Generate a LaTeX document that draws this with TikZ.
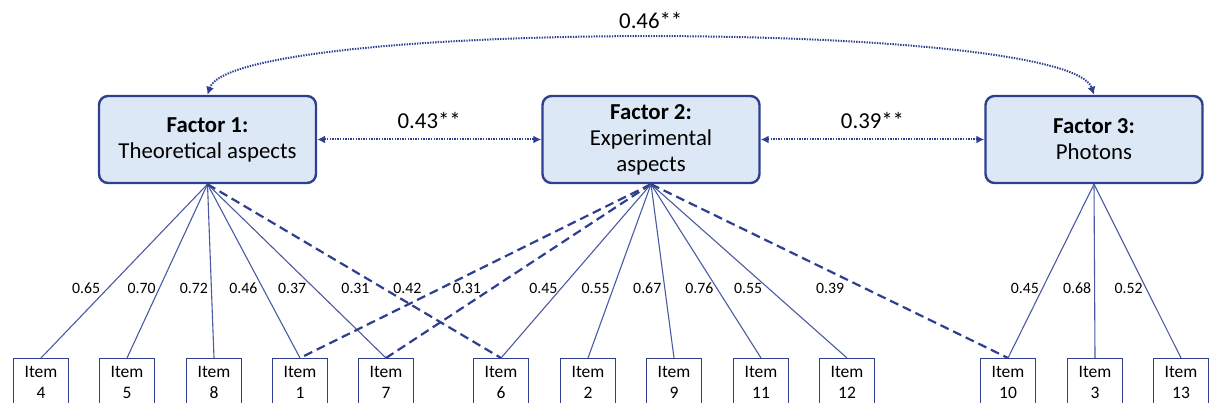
\documentclass[tikz,border=0pt]{standalone}
\usepackage{fontspec}
\setmainfont{Carlito}
\usetikzlibrary{arrows.meta}
\definecolor{navy}{HTML}{2E3F8F}
\definecolor{paleblue}{HTML}{DCE8F5}
\definecolor{linkblue}{HTML}{4B5BA3}

\begin{document}
\begin{tikzpicture}[x=1pt,y=-1pt,
   factor/.style={draw=navy,fill=paleblue,line width=2.4pt,rounded corners=9pt,
      minimum width=217pt,minimum height=87pt,align=center,
      font=\fontsize{22.8}{26}\selectfont},
   item/.style={draw=navy,line width=1.4pt,minimum width=55pt,anchor=north,
      align=center,inner ysep=8pt,font=\fontsize{17.5}{20.5}\selectfont},
   load/.style={draw=linkblue,line width=1.1pt},
   cross/.style={draw=navy,line width=2.2pt,dash pattern=on 9pt off 5pt},
   corr/.style={draw=navy,line width=2pt,dash pattern=on 1.4pt off 1.2pt,
      {Latex[length=8pt,width=8pt]}-{Latex[length=8pt,width=8pt]}},
   lbl/.style={pos=0.6,anchor=east,inner xsep=3pt,inner ysep=1pt,
      font=\fontsize{15.8}{18}\selectfont},
   coef/.style={font=\fontsize{22.8}{26}\selectfont}]
\useasboundingbox (0,0) rectangle (1209,403);

\node[factor] (f1) at (207.5,139.5) {\textbf{Factor 1:}\\Theoretical aspects};
\node[factor] (f2) at (651,139.5) {\textbf{Factor 2:}\\Experimental\\aspects};
\node[factor] (f3) at (1094,139.5) {\textbf{Factor 3:}\\Photons};

\node[item] (i4) at (41,358) {Item\\4};
\node[item] (i5) at (127,358) {Item\\5};
\node[item] (i8) at (214,358) {Item\\8};
\node[item] (i1) at (300,358) {Item\\1};
\node[item] (i7) at (386,358) {Item\\7};
\node[item] (i6) at (501,358) {Item\\6};
\node[item] (i2) at (588,358) {Item\\2};
\node[item] (i9) at (674,358) {Item\\9};
\node[item] (i11) at (761,358) {Item\\11};
\node[item] (i12) at (847,358) {Item\\12};
\node[item] (i10) at (1008,358) {Item\\10};
\node[item] (i3) at (1095,358) {Item\\3};
\node[item] (i13) at (1181,358) {Item\\13};

\draw[load] (f1.south) -- node[lbl,xshift=-4pt] {0.65} (i4.north);
\draw[load] (f1.south) -- node[lbl] {0.70} (i5.north);
\draw[load] (f1.south) -- node[lbl] {0.72} (i8.north);
\draw[load] (f1.south) -- node[lbl,xshift=-2pt] {0.46} (i1.north);
\draw[load] (f1.south) -- node[lbl,xshift=-5pt] {0.37} (i7.north);
\draw[cross] (f1.south) -- node[lbl,xshift=-10pt] {0.31} (i6.north);

\draw[cross] (f2.south) -- node[lbl,xshift=-15pt] {0.42} (i1.north);
\draw[cross] (f2.south) -- node[lbl,xshift=-7pt] {0.31} (i7.north);
\draw[load] (f2.south) -- node[lbl] {0.45} (i6.north);
\draw[load] (f2.south) -- node[lbl] {0.55} (i2.north);
\draw[load] (f2.south) -- node[lbl] {0.67} (i9.north);
\draw[load] (f2.south) -- node[lbl] {0.76} (i11.north);
\draw[load] (f2.south) -- node[lbl,xshift=-3pt] {0.55} (i12.north);
\draw[cross] (f2.south) -- node[lbl,xshift=-17pt] {0.39} (i10.north);

\draw[load] (f3.south) -- node[lbl] {0.45} (i10.north);
\draw[load] (f3.south) -- node[lbl] {0.68} (i3.north);
\draw[load] (f3.south) -- node[lbl] {0.52} (i13.north);

\draw[corr] (f1.east) -- node[coef,above=6pt] {0.43**} (f2.west);
\draw[corr] (f2.east) -- node[coef,above=6pt] {0.39**} (f3.west);
\draw[corr] (f1.north) .. controls +(25,-76) and +(-25,-76) .. node[coef,above=5pt] {0.46**} (f3.north);
\end{tikzpicture}
\end{document}
